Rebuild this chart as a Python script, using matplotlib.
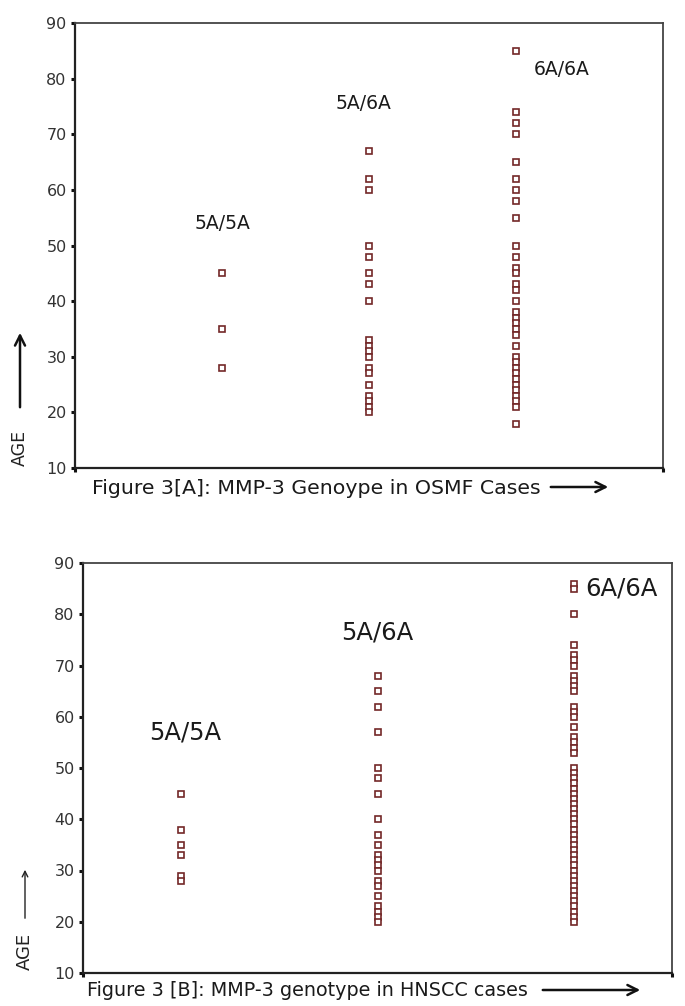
import matplotlib
matplotlib.use("Agg")
import matplotlib.pyplot as plt
from matplotlib.patches import FancyArrowPatch

# ---------------- data ----------------
genotypes = ['5A/5A', '5A/6A', '6A/6A']

osmf_5a5a = [45, 35, 28]
osmf_5a6a = [67, 62, 60, 50, 48, 45, 43, 40, 33, 32, 31, 30, 28, 27, 25, 23, 22, 21, 20]
osmf_6a6a = [85, 74, 72, 70, 65, 62, 60, 58, 55, 50, 48, 46, 45, 43, 42, 40, 38, 37, 36,
             35, 34, 32, 30, 29, 28, 27, 26, 25, 24, 23, 22, 21, 18]

hnscc_5a5a = [45, 38, 35, 33, 29, 28]
hnscc_5a6a = [68, 65, 62, 57, 50, 48, 45, 40, 37, 35, 33, 32, 31, 30, 28, 27, 25, 23, 22, 21, 20]
hnscc_6a6a = [86, 85, 80, 74, 72, 71, 70, 68, 67, 66, 65, 62, 61, 60, 58, 56, 55, 54, 53,
              50, 49, 48, 47, 46, 45, 44, 43, 42, 41, 40, 39, 38, 37, 36, 35, 34, 33, 32,
              31, 30, 29, 28, 27, 26, 25, 24, 23, 22, 21, 20]

age_ticks = [10, 20, 30, 40, 50, 60, 70, 80, 90]

caption_a = 'Figure 3[A]: MMP-3 Genoype in OSMF Cases'
caption_b = 'Figure 3 [B]: MMP-3 genotype in HNSCC cases'

W, H = 685, 1006
fig = plt.figure(figsize=(W / 100, H / 100), dpi=100)
fig.patch.set_facecolor('white')


def fx(x):
    return x / W


def fy(y):
    return 1 - y / H


edge = '#732828'
tick_font = ['Liberation Sans Narrow', 'DejaVu Sans']


def panel(rect, xlim, groups, label_pos, label_size, label_ha):
    ax = fig.add_axes(rect)
    for i, vals in enumerate(groups):
        ax.plot([i + 1] * len(vals), vals, linestyle='none', marker='s',
                markersize=5, markerfacecolor='white', markeredgecolor=edge,
                markeredgewidth=1.2)
    for (x, y), g, ha in zip(label_pos, genotypes, label_ha):
        ax.text(x, y, g, fontsize=label_size, ha=ha, va='center', color='#1a1a1a')
    ax.set_xlim(*xlim)
    ax.set_ylim(10, 90)
    ax.set_yticks(age_ticks)
    ax.set_yticklabels([str(t) for t in age_ticks], family=tick_font,
                       fontsize=11.5, color='#333333')
    ax.set_xticks(list(xlim))
    ax.set_xticklabels([])
    ax.tick_params(axis='both', direction='out', length=3, width=2.2,
                   color='#111111', pad=3)
    for s in ax.spines.values():
        s.set_color('#444444')
        s.set_linewidth(1.3)
    for k in ('left', 'bottom'):
        ax.spines[k].set_linewidth(1.6)
        ax.spines[k].set_color('#222222')
    return ax


# Panel A
panel([fx(75), fy(468), fx(663) - fx(75), fy(23) - fy(468)], (0, 4),
      [osmf_5a5a, osmf_5a6a, osmf_6a6a],
      [(1.0, 54), (1.96, 75.6), (3.12, 81.6)], 13.5, ['center', 'center', 'left'])

# Panel B
panel([fx(83), fy(973), fx(672) - fx(83), fy(563) - fy(973)], (0.5, 3.5),
      [hnscc_5a5a, hnscc_5a6a, hnscc_6a6a],
      [(1.02, 57), (2.0, 76.4), (3.06, 85)], 17.5, ['center', 'center', 'left'])

# captions, sized so their width matches the reference
renderer = fig.canvas.get_renderer()


def fitted_text(x0, x1, y, s, size):
    t = fig.text(fx(x0), fy(y), s, fontsize=size, ha='left', va='center',
                 color='#1a1a1a')
    w = t.get_window_extent(renderer).width
    t.set_fontsize(size * (x1 - x0) / w)
    return t


fitted_text(92, 540, 488, caption_a, 13)
fitted_text(87, 528, 990, caption_b, 13)

arrow_kw = dict(arrowstyle='->', mutation_scale=18, color='#111111', lw=1.8,
                transform=fig.transFigure)
fig.add_artist(FancyArrowPatch((fx(548), fy(487)), (fx(611), fy(487)), **arrow_kw))
fig.add_artist(FancyArrowPatch((fx(540), fy(990)), (fx(643), fy(990)), **arrow_kw))

# AGE labels with up arrows
fig.text(fx(20), fy(448), 'AGE', rotation=90, fontsize=12.5, ha='center', va='center',
         color='#222222')
fig.add_artist(FancyArrowPatch((fx(20), fy(410)), (fx(20), fy(330)), **arrow_kw))
fig.text(fx(25), fy(951), 'AGE', rotation=90, fontsize=13, ha='center', va='center',
         color='#222222')
fig.add_artist(FancyArrowPatch((fx(25), fy(921)), (fx(25), fy(867)),
                               arrowstyle='->', mutation_scale=10, color='#222222',
                               lw=1.0, transform=fig.transFigure))

fig.savefig('out.png', dpi=100, facecolor='white')
